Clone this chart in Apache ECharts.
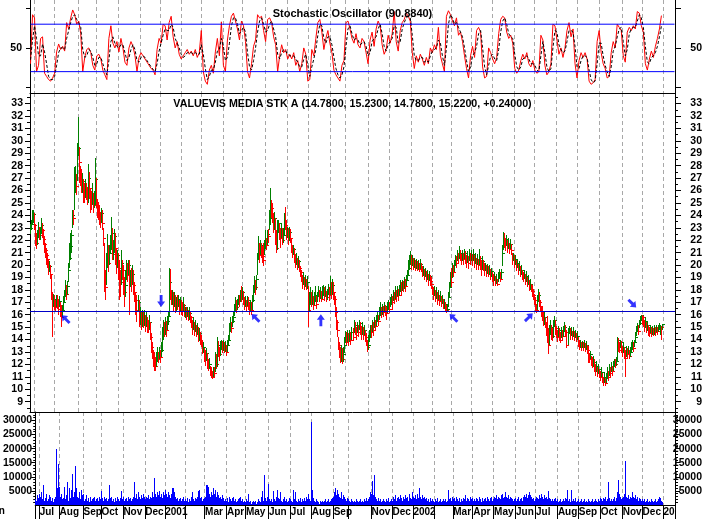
<!DOCTYPE html>
<html><head><meta charset="utf-8">
<script src="https://cdn.jsdelivr.net/npm/echarts@6/dist/echarts.min.js"></script>
<style>html,body{margin:0;padding:0;background:#fff;overflow:hidden}#c{width:705px;height:519px}</style>
</head><body><div id="c"></div>
<script>
// ---- data (daily sessions, Jun 2000 .. Dec 2002) ----
const highs = [
23.3,23.6,24.4,24.4,24.2,23.3,22.6,22.8,23.5,23.1,
23.1,23.8,23.4,22.9,22.3,21.8,21.4,21.0,20.4,20.3,
20.0,19.2,17.8,17.7,17.6,17.2,17.6,17.6,17.3,17.5,
17.0,16.8,16.8,17.5,18.0,18.8,18.4,18.7,20.2,21.8,
22.6,22.8,24.4,24.4,27.9,28.0,27.3,29.8,31.9,29.5,
28.0,27.7,27.4,26.9,26.6,26.9,26.6,26.3,28.1,27.5,
26.2,26.0,26.6,25.8,26.0,28.6,27.0,25.3,25.0,24.8,
24.2,24.6,24.4,23.0,21.8,19.6,21.0,22.5,21.6,21.6,
22.4,23.9,23.0,22.0,22.9,22.6,21.3,21.2,21.0,20.4,
19.6,21.2,20.4,20.0,19.0,19.6,20.4,20.2,20.4,20.4,
19.6,19.8,20.0,19.6,18.6,17.8,17.6,17.6,17.2,16.6,
16.2,16.4,16.3,16.4,16.0,16.2,15.8,15.6,16.0,15.4,
14.5,13.8,13.2,12.9,12.6,13.0,13.4,13.0,13.4,13.2,
13.8,15.0,15.6,15.4,15.8,15.5,15.9,16.2,19.8,19.7,
18.0,18.0,17.8,17.8,17.6,17.4,17.6,17.6,17.2,17.4,
17.2,17.0,17.4,16.9,16.6,16.6,16.6,16.4,16.6,16.3,
15.9,15.6,15.8,15.4,15.6,15.2,15.3,15.0,14.9,14.6,
14.4,14.0,13.8,13.3,13.2,13.3,12.9,12.4,12.5,11.9,
11.8,11.5,11.8,11.8,13.0,12.8,14.2,13.9,13.4,13.9,
14.0,13.9,14.0,13.8,13.9,13.6,14.0,14.4,15.3,15.8,
15.4,15.9,16.2,16.9,17.4,17.2,17.3,17.6,17.6,18.0,
18.3,18.2,17.9,17.4,17.5,17.2,17.5,17.4,17.0,17.2,
17.0,17.6,18.4,19.1,18.8,19.2,21.0,22.3,21.8,22.0,
21.8,21.5,21.8,22.0,22.8,22.2,22.8,22.9,24.4,26.2,
25.2,25.0,24.2,24.3,23.8,22.8,23.6,23.6,23.4,23.0,
23.4,23.0,23.0,24.2,24.7,23.6,23.1,23.0,23.1,22.9,
22.2,21.5,21.6,21.4,20.9,21.0,20.6,20.7,20.4,19.9,
19.6,19.2,19.4,19.0,19.2,18.9,19.1,18.3,17.8,18.2,
17.8,18.0,17.5,17.8,18.3,17.5,17.8,18.3,18.0,18.2,
17.9,18.3,18.4,18.2,18.3,17.9,18.1,18.5,18.2,19.1,
18.6,18.9,18.6,17.8,17.5,16.6,15.6,14.2,13.8,13.4,
13.6,13.3,13.4,14.2,14.7,14.6,14.8,14.5,14.8,14.6,
15.0,14.9,15.6,15.4,15.0,15.4,15.2,15.6,15.4,15.1,
15.4,15.0,15.2,14.8,14.5,14.0,14.4,14.8,15.2,15.2,
15.6,15.4,15.8,15.6,16.0,16.2,16.0,16.6,17.0,16.6,
16.9,16.7,17.0,16.8,16.6,17.0,17.2,17.0,17.4,17.7,
17.5,18.0,17.8,18.3,18.0,18.3,18.1,18.4,18.8,18.6,
18.8,18.7,19.0,18.9,19.2,19.6,20.4,20.8,21.1,20.8,
20.8,20.6,20.6,20.4,20.5,20.3,20.4,20.2,20.5,20.2,
19.9,19.9,19.7,19.8,19.5,19.6,19.3,19.5,19.2,19.0,
18.3,18.2,18.3,18.0,18.2,17.8,18.0,17.6,17.9,17.5,
17.6,17.3,17.2,17.0,16.8,16.9,17.8,18.6,19.4,19.8,
20.2,20.0,20.4,20.8,20.7,21.2,21.0,21.5,21.2,20.9,
21.2,21.0,21.3,21.1,20.8,21.1,20.7,21.3,21.0,21.2,
20.9,21.3,20.8,21.0,20.6,20.9,20.5,21.3,20.7,20.4,
20.7,20.4,20.2,20.2,20.0,20.1,19.9,20.0,19.7,19.8,
19.4,19.3,19.4,19.1,19.3,18.9,19.4,19.7,19.4,19.7,
21.6,22.7,22.6,22.2,22.4,22.0,22.2,21.8,22.1,21.7,
21.0,21.0,20.8,20.8,20.4,20.5,20.1,20.3,19.9,20.0,
19.6,19.4,19.6,19.3,19.5,19.0,19.2,18.8,18.9,18.5,
18.4,18.1,17.7,17.4,16.9,17.6,18.1,17.8,17.2,16.7,
16.7,16.2,16.2,15.8,15.4,15.9,14.9,15.2,15.6,15.2,
14.9,15.6,15.9,15.6,15.1,14.8,15.1,14.9,14.6,15.0,
14.8,15.1,15.4,15.2,14.8,14.9,15.1,14.9,15.0,14.7,
15.0,14.7,14.8,14.5,14.7,14.2,14.0,14.0,13.8,13.9,
13.8,14.0,13.7,13.9,13.6,13.5,12.9,13.1,12.7,12.6,
12.7,12.4,12.0,12.3,11.8,12.0,11.6,11.5,11.8,11.3,
11.0,11.4,10.9,11.3,11.8,11.5,12.0,11.8,12.2,11.9,
12.3,12.4,12.4,12.6,14.2,14.1,13.8,14.0,13.9,13.5,
13.8,13.4,13.2,13.5,13.3,13.5,13.2,13.4,13.8,14.0,
13.8,14.0,14.6,15.1,15.3,15.2,15.6,15.9,16.0,16.0,
15.9,15.6,15.8,15.4,15.4,15.2,15.0,15.2,15.0,15.1,
14.9,15.2,15.0,15.2,15.0,15.2,15.3,15.2,15.1,15.23];
const lows = [
22.5,22.8,23.2,23.4,22.8,21.5,21.3,21.6,22.2,22.0,
22.0,22.5,22.2,21.6,21.0,20.6,20.0,19.8,19.2,19.4,
18.9,17.2,14.2,16.6,16.4,16.2,16.6,16.5,16.0,16.6,
15.8,15.0,15.8,16.3,17.0,17.4,17.2,17.6,18.6,19.8,
20.4,21.0,23.0,23.2,24.4,25.8,25.6,26.8,28.8,26.6,
26.4,25.8,25.8,25.0,25.0,25.4,25.2,24.8,25.0,25.4,
24.2,24.4,24.8,24.2,24.6,24.8,24.6,23.8,23.6,23.2,
23.0,23.4,22.8,21.5,17.8,17.2,18.4,19.8,19.4,20.0,
21.0,21.2,20.4,20.4,21.0,20.0,19.3,19.8,18.8,17.2,
17.4,18.4,18.8,17.6,16.6,17.4,18.8,18.6,19.2,16.0,
18.2,17.8,18.4,17.6,17.0,16.0,15.4,16.2,15.0,15.2,
14.8,15.0,14.9,15.1,14.6,15.0,14.5,14.5,14.8,14.0,
12.9,12.4,11.8,11.5,11.5,11.8,12.2,12.1,12.4,12.1,
12.6,13.0,14.0,14.2,14.4,14.2,14.8,15.2,15.8,17.2,
16.8,16.8,16.3,16.6,16.1,16.3,16.4,16.6,16.0,16.3,
16.0,15.9,16.2,15.8,15.7,15.6,15.8,15.5,15.6,15.3,
14.9,14.4,14.8,14.3,14.6,14.2,14.4,13.8,13.9,13.6,
13.4,12.8,12.9,12.2,11.9,12.3,11.6,11.5,11.6,11.1,
10.9,10.8,11.0,11.0,11.4,11.6,11.8,12.6,12.3,12.7,
13.2,12.9,13.1,12.9,13.0,12.7,13.0,13.6,14.0,14.6,
14.5,15.0,15.3,15.9,16.3,16.1,16.4,16.8,16.6,17.0,
17.0,17.2,16.8,16.4,16.6,16.3,16.7,16.4,16.0,16.2,
16.0,16.4,17.0,17.8,17.6,18.0,19.2,20.4,20.2,20.8,
20.6,20.2,19.9,20.8,21.3,21.2,21.6,21.8,22.8,23.2,
23.8,23.4,22.6,22.8,21.6,21.0,21.2,22.6,22.0,21.4,
22.2,21.6,21.8,22.4,22.8,22.0,22.2,21.6,21.9,21.8,
21.0,20.6,20.8,20.2,19.8,20.0,19.6,19.8,19.4,19.0,
18.6,18.1,18.4,18.0,18.2,18.0,18.1,15.0,16.2,16.8,
16.6,16.8,16.4,16.8,17.0,16.5,17.0,17.4,17.0,17.3,
17.0,17.3,17.5,17.1,17.4,17.0,17.2,17.6,17.1,17.6,
17.3,17.6,17.2,16.8,15.8,14.8,14.2,13.2,12.5,12.1,
12.2,12.0,12.2,12.9,13.7,13.6,13.8,13.5,13.8,13.6,
14.0,13.9,14.5,14.4,14.0,14.5,14.2,14.8,14.4,14.0,
14.4,14.0,14.4,13.8,13.5,13.0,13.2,13.8,14.2,14.1,
14.6,14.3,14.9,14.8,15.1,15.4,15.1,15.6,15.9,15.7,
16.0,15.8,16.2,15.9,15.6,16.1,16.4,16.1,16.6,16.8,
16.4,17.1,16.9,17.3,17.0,17.5,17.1,17.5,17.8,17.5,
17.9,17.8,18.1,17.8,18.3,18.7,19.1,19.6,20.0,19.6,
19.9,19.6,19.8,19.5,19.7,19.5,19.6,19.4,19.7,19.4,
19.0,19.1,18.8,19.0,18.6,18.8,18.3,18.7,18.3,18.1,
17.6,17.2,17.5,17.0,17.3,16.8,17.2,16.7,17.1,16.6,
16.9,16.5,16.5,16.2,16.1,16.2,16.6,17.4,18.2,18.2,
19.0,19.0,19.4,20.0,19.8,20.3,20.2,20.5,20.3,20.0,
20.3,20.0,20.5,20.1,19.8,20.2,19.7,20.3,20.0,20.3,
19.9,20.3,19.8,20.1,19.6,20.0,19.6,20.0,19.6,19.1,
19.6,19.5,19.1,19.5,19.0,19.3,19.0,19.2,18.8,19.0,
18.6,18.3,18.7,18.3,18.5,18.3,18.6,18.9,18.6,18.9,
19.9,21.2,21.4,21.1,21.5,21.0,21.3,20.9,21.3,20.8,
20.0,20.3,19.8,20.0,19.5,19.8,19.2,19.5,19.0,19.2,
18.8,18.6,18.9,18.4,18.6,18.2,18.4,17.9,18.0,17.8,
17.4,17.2,16.8,16.2,16.1,16.4,17.0,16.6,16.2,15.8,
15.5,15.1,15.2,14.9,14.3,13.7,12.8,13.6,14.4,14.0,
13.9,14.1,15.0,14.4,14.1,13.8,14.2,13.9,13.7,14.1,
13.9,14.2,14.6,14.2,13.3,13.6,14.5,14.0,14.3,14.0,
14.2,13.9,14.1,13.8,14.0,13.4,13.2,13.3,13.1,13.3,
13.1,13.3,13.0,13.2,12.8,12.1,12.1,12.4,11.9,11.7,
11.8,11.4,11.1,11.4,11.0,11.2,10.9,10.7,11.0,10.5,
10.3,10.5,10.3,10.5,10.8,10.7,11.1,11.0,11.4,11.1,
11.5,11.8,11.7,11.9,12.3,13.0,12.9,13.3,12.9,12.6,
12.9,12.4,11.0,12.6,12.4,12.8,12.4,12.6,13.0,13.2,
13.0,13.4,13.8,14.3,14.6,14.4,14.9,15.2,15.6,15.2,
15.0,14.6,14.9,14.5,14.7,14.3,14.2,14.5,14.2,14.4,
14.3,14.4,14.3,14.6,14.4,14.6,14.8,14.4,14.0,14.78];
const closes = [
23.0,23.3,23.8,24.1,23.2,22.4,21.8,22.3,22.9,22.4,
22.6,23.2,22.8,22.1,21.7,21.2,20.8,20.5,19.7,19.9,
19.3,17.6,16.9,17.3,17.0,16.6,17.2,17.0,16.5,17.1,
16.4,15.8,16.4,17.0,17.6,18.1,17.7,18.3,19.6,20.6,
21.5,22.4,24.0,23.8,26.5,27.2,26.4,29.2,29.4,28.3,
27.2,26.5,26.8,26.1,25.6,26.3,26.0,25.4,27.0,26.2,
25.2,24.9,25.6,24.8,25.3,26.9,25.1,24.6,24.3,24.0,
23.6,24.2,23.4,22.2,19.0,18.2,20.4,21.2,20.2,21.0,
21.8,22.6,20.9,21.5,22.3,21.4,20.2,20.8,19.8,19.2,
18.6,20.2,19.6,18.6,17.8,18.4,19.8,19.2,20.0,18.4,
19.0,18.6,19.3,18.4,17.8,17.2,16.4,17.0,15.6,15.9,
15.2,16.0,15.4,15.9,15.3,15.6,15.0,14.9,15.4,14.2,
13.4,13.0,12.4,12.0,11.9,12.5,12.7,12.4,13.0,12.6,
13.2,14.4,15.1,14.6,15.2,14.8,15.5,15.9,18.6,17.8,
17.2,17.6,16.8,17.4,16.6,17.0,16.9,17.3,16.5,16.9,
16.6,16.4,16.8,16.2,16.3,16.0,16.4,15.9,16.1,15.8,
15.4,15.0,15.3,14.8,15.1,14.6,14.9,14.3,14.5,13.9,
13.8,13.1,13.4,12.8,12.4,12.9,12.2,11.8,12.0,11.4,
11.2,11.0,11.5,11.3,12.6,12.0,13.6,13.2,12.8,13.4,
13.7,13.3,13.6,13.2,13.5,13.0,13.6,14.0,14.8,15.2,
14.9,15.5,15.8,16.4,17.0,16.6,16.9,17.3,17.1,17.6,
17.4,17.8,17.2,16.8,17.1,16.7,17.2,16.9,16.5,16.8,
16.4,17.2,17.8,18.6,18.2,18.9,20.6,21.4,20.8,21.6,
21.2,20.7,20.4,21.5,22.0,21.6,22.5,22.3,23.8,25.0,
24.6,24.0,23.2,23.8,22.6,21.4,23.0,23.4,22.8,22.2,
22.9,22.0,22.4,23.6,23.2,22.6,22.8,22.0,22.7,22.2,
21.6,21.0,21.3,20.8,20.2,20.6,20.0,20.3,19.8,19.4,
19.0,18.6,18.9,18.4,18.7,18.3,18.6,16.4,17.0,17.6,
17.0,17.4,16.8,17.3,17.6,16.9,17.5,17.9,17.4,17.8,
17.3,17.8,18.0,17.5,17.9,17.4,17.7,18.2,17.6,18.4,
17.8,18.4,17.8,17.3,16.2,15.4,14.8,13.6,13.0,12.6,
13.2,12.4,12.8,13.6,14.2,13.8,14.3,13.9,14.4,14.0,
14.6,14.2,15.2,14.8,14.4,15.0,14.6,15.3,14.9,14.5,
14.9,14.4,14.8,14.2,13.9,13.4,13.6,14.2,14.8,14.6,
15.2,14.8,15.4,15.1,15.6,15.9,15.5,16.0,16.4,16.1,
16.5,16.2,16.7,16.3,16.1,16.6,16.9,16.5,17.1,17.3,
17.0,17.6,17.3,17.8,17.5,18.0,17.6,17.9,18.3,18.0,
18.4,18.2,18.6,18.3,18.8,19.2,19.8,20.2,20.6,20.1,
20.4,20.1,20.3,19.9,20.2,19.8,20.0,19.7,20.1,19.8,
19.4,19.6,19.2,19.4,19.0,19.3,18.8,19.1,18.7,18.5,
18.0,17.6,18.0,17.4,17.8,17.2,17.6,17.1,17.5,17.0,
17.3,16.8,16.9,16.6,16.4,16.5,17.4,18.2,19.0,18.6,
19.6,19.4,20.0,20.4,20.2,20.8,20.6,21.0,20.7,20.4,
20.8,20.5,21.0,20.6,20.3,20.7,20.2,20.9,20.5,20.8,
20.4,20.9,20.3,20.6,20.1,20.5,20.0,20.6,20.2,19.8,
20.3,20.0,19.6,20.0,19.5,19.8,19.4,19.7,19.2,19.5,
19.0,18.8,19.1,18.6,18.9,18.5,19.0,19.3,18.9,19.4,
21.0,22.2,22.0,21.6,22.1,21.4,21.8,21.3,21.7,21.2,
20.4,20.8,20.2,20.5,19.9,20.2,19.6,19.9,19.4,19.6,
19.2,19.0,19.3,18.8,19.1,18.6,18.8,18.3,18.5,18.1,
17.9,17.6,17.2,16.6,16.4,17.2,17.6,17.0,16.7,16.2,
16.0,15.6,15.8,15.3,14.8,14.2,13.6,14.6,15.0,14.5,
14.3,15.2,15.6,14.9,14.6,14.2,14.8,14.4,14.0,14.6,
14.3,14.7,15.0,14.6,13.6,14.5,14.9,14.4,14.7,14.3,
14.6,14.2,14.5,14.1,14.3,13.8,13.5,13.7,13.4,13.6,
13.4,13.7,13.3,13.6,13.2,12.6,12.4,12.8,12.3,12.0,
12.2,11.8,11.5,11.9,11.3,11.6,11.2,11.0,11.4,10.8,
10.6,11.0,10.5,10.9,11.3,11.0,11.6,11.3,11.8,11.5,
11.9,12.2,12.0,12.3,14.0,13.6,13.2,13.8,13.4,13.0,
13.4,12.9,12.5,13.1,12.8,13.2,12.7,13.0,13.4,13.6,
13.3,13.8,14.2,14.8,15.0,14.7,15.3,15.6,16.0,15.8,
15.4,15.0,15.5,14.8,15.2,14.7,14.5,14.9,14.6,14.8,
14.5,14.8,14.6,15.0,14.7,14.9,15.1,15.1,14.98,15.22];
// volume in hundreds of shares
const volumeHundreds = [
20,15,35,25,40,30,45,20,70,15, 25,40,15,20,35,30,15,25,10,20,
30,200,60,145,65,30,40,20,25,65, 20,35,80,15,60,25,55,110,30,45,
140,60,30,25,45,20,55,35,40,15, 20,35,15,25,10,30,15,20,25,30,
15,20,25,15,30,20,48,25,15,30, 20,25,15,20,70,25,30,15,20,10,
25,15,30,20,15,25,50,20,30,15, 20,25,15,30,20,25,15,20,30,80,
25,40,20,45,30,20,35,25,40,30, 20,30,25,35,20,30,25,45,30,95,
40,30,45,35,50,30,40,25,45,35, 55,40,30,45,35,25,40,60,60,45,
30,20,25,15,20,25,15,20,30,15, 20,15,25,10,20,15,30,45,20,15,
25,20,30,50,55,25,30,15,20,25, 30,70,72,65,40,30,45,35,60,40,
55,30,45,35,25,30,20,35,25,15, 20,15,25,10,30,20,15,25,30,15,
20,10,15,20,10,25,30,15,20,10, 15,10,20,15,40,10,15,5,10,15,
10,15,5,10,20,15,10,30,50,15, 105,25,15,30,75,20,15,20,10,50,
20,15,30,55,25,20,45,15,10,20, 30,15,20,10,15,25,20,15,10,55,
20,45,15,10,20,15,25,10,20,15, 25,15,30,20,40,20,15,295,55,25,
15,10,20,15,10,5,15,10,15,10, 15,20,10,15,20,10,15,20,25,30,
45,60,35,55,40,30,25,45,20,35, 30,20,15,25,20,15,10,20,15,10,
15,10,20,15,10,15,20,10,15,10, 20,15,25,15,20,30,45,40,85,35,
105,30,20,15,25,15,20,10,15,20, 15,10,20,15,25,10,15,20,15,30,
20,35,15,25,30,20,35,25,15,30, 20,35,25,30,15,40,25,20,45,30,
25,35,20,40,25,60,30,20,35,25, 30,20,25,15,20,10,25,15,20,15,
10,20,15,25,10,15,20,10,15,20, 15,20,10,15,55,20,25,15,30,20,
25,15,30,20,15,25,10,20,15,25, 20,35,15,25,20,15,30,20,25,15,
20,15,25,20,15,30,20,10,25,15, 20,25,15,30,20,15,25,30,15,20,
30,25,35,20,30,25,20,35,40,25, 30,45,30,25,35,20,30,25,20,15,
20,25,15,20,30,15,20,25,15,30, 35,30,40,25,35,30,45,35,30,20,
25,15,20,30,25,20,35,25,40,30, 20,35,25,30,20,48,25,20,15,20,
15,20,25,15,20,10,15,20,10,15, 20,15,25,20,55,15,20,10,55,15,
20,15,25,10,15,20,10,15,20,10, 15,20,10,15,10,20,15,10,15,20,
10,15,20,15,10,20,15,25,20,15, 25,20,30,15,20,80,25,15,20,15,
20,30,15,25,45,90,40,30,20,25, 30,40,155,30,25,35,20,30,25,45,
30,25,35,20,30,15,25,20,15,20, 15,20,10,15,20,10,15,10,20,15,
10,15,20,10,15,20,30,25,15,10];
// stochastic %K and %D, one reading every second session
const stochK = [
30,92,88,20,28, 62,64,18,14,10, 8,12,18,45,55, 48,52,46,82,74, 88,98,92,80,84,
68,20,38,48,50, 44,28,22,40,42, 36,22,16,10,62, 78,56,50,58,45, 62,50,32,28,50,
58,52,40,20,38, 44,40,36,32,28, 24,22,16,48,62, 56,80,78,60,82, 90,64,50,58,42,
36,40,44,48,42, 46,40,48,38,44, 72,20,8,4,22, 28,18,45,62,40, 83,28,20,60,78,
90,94,84,74,60, 84,78,58,20,12, 30,52,60,92,88, 90,72,58,86,88, 82,64,54,20,40,
54,44,48,36,42, 36,44,28,34,20, 30,50,42,8,10, 48,40,62,82,86, 70,48,62,72,56,
44,22,16,12,8, 28,34,82,84,74, 62,56,68,54,50, 62,58,44,30,60, 70,52,74,84,78,
54,42,48,66,56, 68,96,58,46,72, 82,86,94,90,84, 44,24,40,32,42, 36,28,38,30,50,
44,54,48,76,40, 30,20,90,97,92, 84,78,88,66,70, 58,40,24,12,40, 52,38,72,76,70,
26,12,14,50,44, 36,30,38,68,86, 90,88,70,62,66, 56,24,18,22,34, 42,36,44,30,26,
34,22,18,20,66, 60,28,16,20,30, 80,78,60,42,50, 38,50,72,82,64, 74,30,12,34,44,
38,44,36,8,4, 6,10,58,72,44, 30,24,12,14,44, 58,50,80,76,72, 40,32,70,76,72,
78,74,96,94,78, 70,30,22,36,46, 38,52,62,74,90.9];
const stochD = [
35,60,78,62,40, 40,55,45,30,14, 10,10,14,28,44, 50,50,48,62,72, 82,90,92,86,82,
76,48,38,40,48, 46,38,28,30,38, 38,30,22,16,34, 58,64,56,52,50, 54,54,44,34,38,
48,54,48,34,32, 38,40,38,34,30, 26,23,20,30,46, 56,66,74,72,72, 80,76,62,56,50,
42,38,40,44,44, 44,42,44,42,42, 54,42,24,10,14, 22,22,32,46,48, 62,52,34,38,56,
78,88,88,80,68, 72,76,70,44,26, 22,34,50,70,84, 88,80,70,72,80, 84,74,64,42,36,
44,48,46,42,40, 40,40,36,32,26, 26,36,42,28,14, 26,36,48,66,80, 78,62,56,64,64,
54,38,24,16,12, 16,26,52,74,78, 68,60,62,60,54, 56,58,52,40,44, 58,62,64,74,80,
68,52,46,54,58, 62,78,76,56,58, 74,82,88,90,88, 66,40,34,34,38, 38,32,34,32,40,
46,48,50,60,56, 40,28,50,80,92, 88,80,82,76,70, 64,50,34,20,26, 40,44,52,68,72,
50,26,16,28,40, 42,36,34,48,70, 84,88,80,68,64, 62,42,26,22,26, 36,38,40,36,30,
30,28,22,20,40, 58,44,26,20,24, 50,72,70,54,48, 44,46,58,72,72, 70,52,26,24,34,
40,40,38,22,10, 6,8,30,56,56, 40,28,20,14,26, 46,52,64,74,76, 58,40,48,68,74,
76,76,84,92,88, 76,52,32,30,38, 40,44,52,64,78];
// calendar: first session of each month and its axis label ('' = label not shown)
const monthStarts = [4,24,48,66,88,110,130,151,170,192,211,234,256,277,299,314,337,358,379,400,419,439,460,482,502,524,545,567,589,609,630];
const monthLabels = ['Jul','Aug','Sep','Oct','Nov','Dec','2001','','Mar','Apr','May','Jun','Jul','Aug','Sep','','Nov','Dec','2002','','Mar','Apr','May','Jun','Jul','Aug','Sep','Oct','Nov','Dec','20'];
const priceTicks = [9,10,11,12,13,14,15,16,17,18,19,20,21,22,23,24,25,26,27,28,29,30,31,32,33];
const volumeTicks = [5000,10000,15000,20000,25000,30000];
const stochTicks = [0,50,100];
const stochLabels = [50];
const stochBands = [80,20];
const supportLevel = 16.3;
// signal arrows: session index, price, direction (degrees, CCW from up)
const arrowIdx = [35,130,224,289,421,496,599];
const arrowPrice = [15.65,17.1,15.75,15.55,15.75,15.8,16.9];
const arrowDir = [45,180,45,0,45,-45,-135];
const titleStoch = 'Stochastic Oscillator (90.8840)';
const titlePrice = 'VALUEVIS MEDIA STK A (14.7800, 15.2300, 14.7800, 15.2200, +0.24000)';

// ---- chart ----
const SLOTS = 642;
const FONT = "'Liberation Sans', Arial, sans-serif";
const cats = Array.from({length: SLOTS}, (_, i) => String(i));
const monthSet = new Set(monthStarts);
const priceMinor = priceTicks.map(v => v - 0.5).concat([33.5]);
const volMinor = [];
for (let v = 1000; v <= 33000; v += 1000) if (v % 5000) volMinor.push(v);

function xAx(grid, withLabels) {
  return {
    type: 'category', gridIndex: grid, data: cats, boundaryGap: true,
    axisLine: {show: true, onZero: false, lineStyle: {color: '#000', width: 1}},
    axisTick: withLabels ? {show: true, length: 14, interval: i => i === 0 || monthSet.has(i), lineStyle: {color: '#000'}} : {show: false},
    axisLabel: withLabels ? {show: true, interval: i => monthSet.has(i), align: 'left', margin: 2,
      formatter: (v, i) => { const k = monthStarts.indexOf(i); return k >= 0 ? monthLabels[k] : ''; },
      color: '#000', fontSize: 10, fontWeight: 'bold', fontFamily: FONT} : {show: false},
    splitLine: {show: true, interval: i => monthSet.has(i), lineStyle: {color: '#a8a8a8', width: 1, type: [4, 3]}}
  };
}
function yAx(grid, pos, min, max, ticks, tickLen, labels, margin, line) {
  const o = {
    type: 'value', gridIndex: grid, position: pos, min: min, max: max, scale: true,
    axisLine: {show: line, onZero: false, lineStyle: {color: '#000', width: 1}},
    axisTick: {show: true, customValues: ticks, length: tickLen, lineStyle: {color: '#000'}},
    axisLabel: {show: false},
    splitLine: {show: false}
  };
  if (labels) {
    o.axisLabel = {show: true, customValues: labels, margin: margin, color: '#000', fontSize: 10.5,
      fontWeight: 'bold', fontFamily: FONT, align: 'right', formatter: v => String(v)};
  }
  return o;
}

const kData = stochK.map((v, j) => [Math.min(2 * j, closes.length - 1), v]);
const dData = stochD.map((v, j) => [Math.min(2 * j, closes.length - 1), v]);
const priceData = closes.map((c, i) => [i, highs[i], lows[i], c]);
const volData = volumeHundreds.map((v, i) => [i, v * 100]);
const arrowData = arrowIdx.map((x, k) => ({value: [x, arrowPrice[k]], symbolRotate: arrowDir[k],
  symbolSize: (arrowDir[k] % 180 === 0) ? [8, 12] : [8, 11]}));
const bandSeries = stochBands.map(v => ({
  type: 'line', xAxisIndex: 0, yAxisIndex: 0, data: [[0, v], [SLOTS - 1, v]], showSymbol: false, symbol: 'none',
  lineStyle: {color: '#0000ff', width: 1}, z: 5, silent: true
}));

const chart = echarts.init(document.getElementById('c'), null, {renderer: 'canvas', width: 705, height: 519});
chart.setOption({
  animation: false,
  backgroundColor: '#fff',
  title: [
    {text: titleStoch, left: 'center', top: 3, textStyle: {fontSize: 11, fontWeight: 'bold', color: '#000', fontFamily: FONT}},
    {text: titlePrice, left: 'center', top: 94, textStyle: {fontSize: 10.7, fontWeight: 'bold', color: '#000', fontFamily: FONT}}
  ],
  grid: [
    {left: 30, right: 29, top: 0, height: 93},
    {left: 30, right: 29, top: 93, height: 319},
    {left: 30, right: 29, top: 412, height: 93}
  ],
  xAxis: [xAx(0, false), xAx(1, false), xAx(2, true)],
  yAxis: [
    yAx(0, 'left', -7, 110.6, stochTicks, 4, stochLabels, 8, true),
    yAx(0, 'right', -7, 110.6, stochTicks, 6, stochLabels, 27, true),
    yAx(1, 'left', 8.17, 33.85, priceTicks, 5, priceTicks, 7, true),
    yAx(1, 'left', 8.17, 33.85, priceMinor, 3, null, 0, false),
    yAx(1, 'right', 8.17, 33.85, priceTicks, 6, priceTicks, 27, true),
    yAx(1, 'right', 8.17, 33.85, priceMinor, 3, null, 0, false),
    yAx(2, 'left', 0, 33000, volumeTicks, 4, volumeTicks, 3, true),
    yAx(2, 'left', 0, 33000, volMinor, 2, null, 0, false),
    yAx(2, 'right', 0, 33000, volumeTicks, 5, volumeTicks, 27, true),
    yAx(2, 'right', 0, 33000, volMinor, 3, null, 0, false)
  ],
  series: [
    {type: 'line', name: '%K', xAxisIndex: 0, yAxisIndex: 0, data: kData, showSymbol: false, symbol: 'none',
     lineStyle: {color: '#ff0000', width: 1}, z: 3},
    {type: 'line', name: '%D', xAxisIndex: 0, yAxisIndex: 0, data: dData, showSymbol: false, symbol: 'none',
     lineStyle: {color: '#000', width: 1, type: [3, 2]}, z: 4},
    ...bandSeries,
    {type: 'custom', name: 'price', xAxisIndex: 1, yAxisIndex: 2, data: priceData, clip: true,
     encode: {x: 0, y: [1, 2, 3]},
     renderItem: function (params, api) {
       const i = api.value(0);
       const hi = api.coord([i, api.value(1)]);
       const lo = api.coord([i, api.value(2)]);
       const cl = api.coord([i, api.value(3)]);
       const up = i === 0 ? true : closes[i] >= closes[i - 1];
       const col = up ? '#008000' : '#ff0000';
       const x = Math.floor(hi[0]);
       const y0 = Math.round(hi[1]);
       const y1 = Math.round(lo[1]);
       return {type: 'group', children: [
         {type: 'rect', shape: {x: x, y: y0, width: 1, height: Math.max(1, y1 - y0)}, style: {fill: col}},
         {type: 'rect', shape: {x: x + 1, y: Math.round(cl[1]), width: 2, height: 1}, style: {fill: col}}
       ]};
     }},
    {type: 'scatter', name: 'signals', xAxisIndex: 1, yAxisIndex: 2, data: arrowData, z: 5,
     symbol: 'path://M5 0 L10 5.5 L6.8 5.5 L6.8 12 L3.2 12 L3.2 5.5 L0 5.5 Z',
     itemStyle: {color: '#0000ff'},
     markLine: {silent: true, symbol: ['none', 'none'], label: {show: false}, animation: false,
       lineStyle: {color: '#0000c8', width: 1, type: 'solid'},
       data: [{yAxis: supportLevel, lineStyle: {color: '#0000c8', width: 1, type: 'solid'}}]}},
    {type: 'custom', name: 'volume', xAxisIndex: 2, yAxisIndex: 6, data: volData, clip: true,
     encode: {x: 0, y: 1},
     renderItem: function (params, api) {
       const i = api.value(0);
       const top = api.coord([i, api.value(1)]);
       const base = api.coord([i, 0]);
       const x = Math.floor(top[0]);
       const y0 = Math.round(top[1]);
       const y1 = Math.round(base[1]);
       return {type: 'rect', shape: {x: x, y: y0, width: 1, height: Math.max(1, y1 - y0)}, style: {fill: '#0000ff'}};
     }}
  ],
  graphic: [
    {type: 'text', left: -13, top: 506, style: {text: 'Jun', font: 'bold 10px ' + FONT, fill: '#000'}}
  ]
});
</script>
</body></html>
